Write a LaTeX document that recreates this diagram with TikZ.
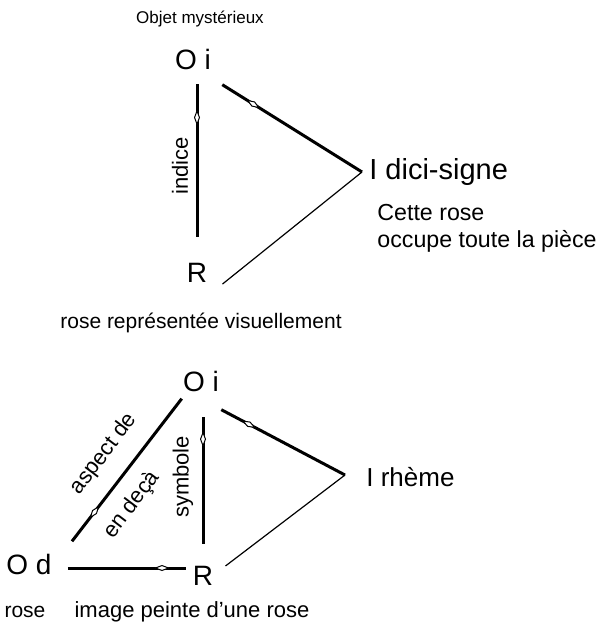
\documentclass[tikz,border=0pt]{standalone}
\usepackage{fontspec}
\setsansfont{Liberation Sans}
\usetikzlibrary{arrows.meta,decorations.markings}

\begin{document}
\begin{tikzpicture}[x=0.5pt,y=-0.5pt,
    big/.style={font=\sffamily\fontsize{14}{16}\selectfont, inner sep=1pt},
    mid/.style={font=\sffamily\fontsize{13}{15}\selectfont, inner sep=1pt},
    txt/.style={font=\sffamily\fontsize{10.5}{13}\selectfont, inner sep=1pt},
    small/.style={font=\sffamily\fontsize{8.5}{10}\selectfont, inner sep=1pt},
    side/.style={font=\sffamily\fontsize{11}{13}\selectfont, inner sep=0pt},
    heavy/.style={line width=1.5pt},
    light/.style={line width=0.6pt},
    lens/.style={postaction={decorate}, decoration={markings,
      mark=at position #1 with {\arrow{Diamond[fill=white,length=8pt,width=3pt,line width=0.5pt]}}}}]
    \useasboundingbox (0,0) rectangle (600,633);

    %  upper triangle
    \node[small] (myst1) at (200,19) {Objet mystérieux};
    \node[big] (oi1) at (193,59) {O i};
    \node[big] (r1) at (197,273) {R};
    \coordinate (apex1) at (362,172);
    \node[mid, font=\sffamily\fontsize{14.5}{16}\selectfont, anchor=west] (int1) at (367,172) {I dici-signe};
    \node[txt, font=\sffamily\fontsize{11.6}{14}\selectfont, anchor=west] (rose1) at (375,213) {Cette rose};
    \node[txt, font=\sffamily\fontsize{11.6}{14}\selectfont, anchor=west] (piece1) at (375,241) {occupe toute la pièce};
    \node[txt] (repr1) at (201,323) {rose représentée visuellement};
    \node[side, rotate=90] (ind1) at (180,166) {indice};

    \draw[heavy, lens=0.8, shorten <=12pt, shorten >=6pt] (r1.north)
      -- (r1.north |- oi1.south);
    \draw[heavy, lens=0.27] ([shift={(4.5pt,-6.5pt)}]oi1.south east)
      -- (apex1);
    \draw[light] (apex1)
      -- ([shift={(6.5pt,0.5pt)}]r1.south east);

    %  lower triangle
    \node[big] (oi2) at (201,381) {O i};
    \node[big] (r2) at (203,576) {R};
    \node[big] (od2) at (29,564) {O d};
    \coordinate (apex2) at (345,475);
    \node[mid, anchor=west] (int2) at (364,477) {I rhème};
    \node[txt] (rose2) at (25,612) {rose};
    \node[txt, font=\sffamily\fontsize{11}{13}\selectfont] (peint2) at (192,612) {image peinte d'une rose};
    \node[side, rotate=90] (sym2) at (183,477) {symbole};
    \node[side, rotate=53] (asp2) at (104,454) {aspect de};
    \node[side, rotate=53] (deca2) at (132,505) {en deçà};

    \draw[heavy, lens=0.78, shorten <=10pt, shorten >=11.5pt] (r2.north)
      -- (r2.north |- oi2.south);
    \draw[heavy, lens=0.85, shorten <=7pt, shorten >=2pt] ([yshift=-2pt]od2.east)
      -- ([yshift=-2pt]od2.east -| r2.west);
    \draw[heavy, lens=0.25] ([shift={(9pt,5pt)}]od2.north east)
      -- ([shift={(0.5pt,-2.5pt)}]oi2.south west);
    \draw[heavy, lens=0.28] ([yshift=-8pt]oi2.south east)
      -- (apex2);
    \draw[light] (apex2)
      -- ([shift={(5pt,-1pt)}]r2.north east);
\end{tikzpicture}
\end{document}
